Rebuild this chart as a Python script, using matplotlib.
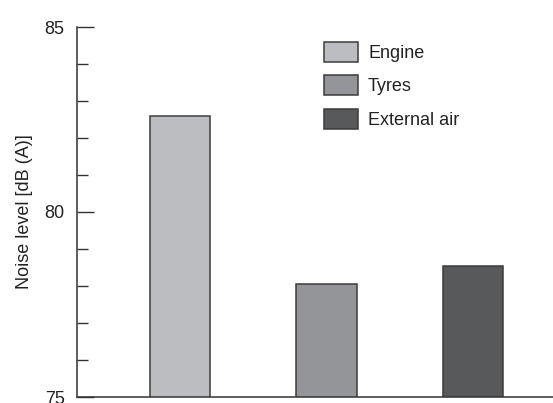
import matplotlib
matplotlib.use("Agg")
import matplotlib.pyplot as plt
from matplotlib.ticker import MultipleLocator

plt.rcParams['font.family'] = ['Liberation Sans', 'DejaVu Sans']

# Data
sources = ["Engine", "Tyres", "External air"]
noise_db = [82.6, 78.05, 78.55]
bar_colors = ["#bcbdc0", "#939598", "#58595b"]

fig = plt.figure(figsize=(5.53, 4.03), dpi=100)
ax = fig.add_axes([77 / 553, 1 - 397 / 403, 1 - 77 / 553, 370 / 403])

x = range(len(sources))
bars = ax.bar(x, noise_db, width=0.41, bottom=0, color=bar_colors,
              edgecolor="#3c3c3c", linewidth=1.1, label=sources)

ax.set_ylim(75, 85)
ax.set_xlim(-0.703, 2.546)
ax.yaxis.set_major_locator(MultipleLocator(5))
ax.yaxis.set_minor_locator(MultipleLocator(1))
ax.tick_params(axis="y", which="major", direction="in", length=12, width=1,
               color="#333333", labelsize=13, pad=9, labelcolor="#222222")
ax.tick_params(axis="y", which="minor", direction="in", length=8, width=1,
               color="#333333")
ax.set_xticks([])

for side in ["top", "right"]:
    ax.spines[side].set_visible(False)
for side in ["left", "bottom"]:
    ax.spines[side].set_color("#333333")
    ax.spines[side].set_linewidth(1.1)

ax.set_ylabel("Noise level [dB (A)]", fontsize=13, color="#222222", labelpad=8)

ax.legend(bars, sources, loc="upper left",
          bbox_to_anchor=(324 / 553, 1 - 42 / 403), bbox_transform=fig.transFigure,
          frameon=False, fontsize=13, handlelength=1.89, handleheight=1.3,
          labelspacing=0.75, handletextpad=0.55, borderpad=0, borderaxespad=0,
          labelcolor="#222222")

fig.savefig("out.png", dpi=100)
